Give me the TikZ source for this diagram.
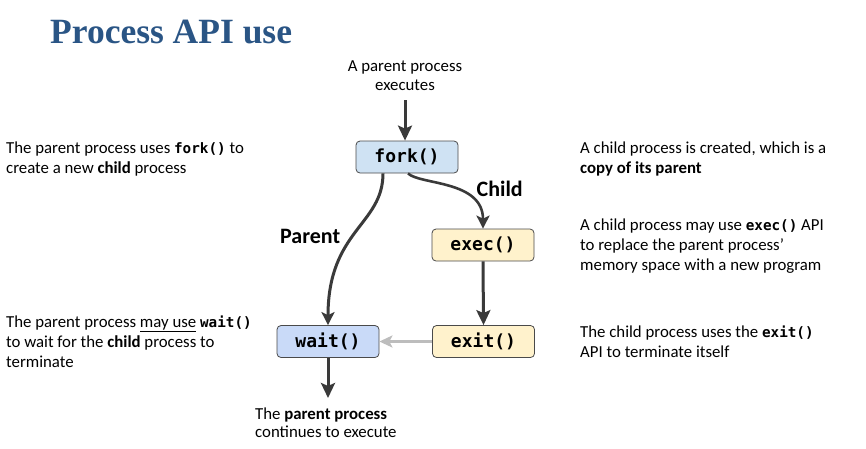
\documentclass[tikz,border=0pt]{standalone}
\usepackage{fontspec}
\setmainfont{Carlito}
\newfontfamily\codefont{DejaVu Sans Mono}
\newfontfamily\titlefont{Liberation Serif}
\usetikzlibrary{arrows.meta}
\definecolor{titleblue}{HTML}{2A5585}
\definecolor{forkblue}{HTML}{CFE2F3}
\definecolor{waitblue}{HTML}{C9DAF8}
\definecolor{childyellow}{HTML}{FFF2CC}
\definecolor{boxline}{HTML}{4A4A4A}
\definecolor{arrowdark}{HTML}{3A3A3A}
\definecolor{arrowlight}{HTML}{BDBDBD}
\newcommand\cd[1]{{\codefont\bfseries\fontsize{14.3}{20}\selectfont #1}}
\tikzset{
  callbox/.style={draw=boxline, line width=0.8pt, rounded corners=4pt,
    minimum width=102pt, minimum height=32pt, inner sep=0pt,
    font=\codefont\bfseries\fontsize{18}{20}\selectfont},
  bluebox/.style={callbox, fill=forkblue},
  bluebox2/.style={callbox, fill=waitblue},
  yellowbox/.style={callbox, fill=childyellow},
  note/.style={inner sep=0pt, align=left, anchor=north west,
    font=\fontsize{16.8}{20}\selectfont},
  branchlabel/.style={inner sep=0pt, anchor=base west,
    font=\bfseries\fontsize{22}{24}\selectfont},
  darkarrow/.style={draw=arrowdark, line width=3pt,
    -{Stealth[length=15pt,width=14pt,inset=3pt]}},
  curvearrow/.style={draw=arrowdark, line width=3pt,
    -{Stealth[length=13pt,width=13pt,inset=3pt]}},
  lightarrow/.style={draw=arrowlight, line width=2.5pt,
    -{Stealth[length=13pt,width=12pt,inset=3pt]}},
}
\begin{document}
\begin{tikzpicture}[x=1pt,y=-1pt]
\useasboundingbox (0,0) rectangle (866,448);
% title
\node[inner sep=0pt, anchor=base west, text=titleblue,
  font=\titlefont\bfseries\fontsize{35.5}{40}\selectfont] (title) at (50,43) {Process API use};

% boxes
\node[bluebox] (fork) at (407,157) {fork()};
\node[yellowbox] (exec) at (483,245) {exec()};
\node[bluebox2] (wait) at (328,341.5) {wait()};
\node[yellowbox] (exit) at (483.5,341.5) {exit()};

% top and bottom texts
\node[inner sep=0pt, align=center, anchor=north, font=\fontsize{16.8}{19}\selectfont]
  (start) at (405,57.7) {\strut A parent process\\executes};
\node[note, font=\fontsize{16.8}{18.5}\selectfont] (cont) at (255,406)
  {\strut The \textbf{parent process}\\continues to execute};
\coordinate (startpt) at (405,100);
\coordinate (endpt) at (328,398);

% branch labels
\node[branchlabel] (childlbl) at (476.5,196.5) {Child};
\node[branchlabel] (parentlbl) at (280,243.5) {Parent};

% side notes
\node[note] (n1) at (6,139) {\strut The parent process uses \cd{fork()} to\\create a new \textbf{child} process};
\node[note] (n2) at (6,313) {\strut The parent process \underline{may use} \cd{wait()}\\to wait for the \textbf{child} process to\\terminate};
\node[note] (n3) at (580,139) {\strut A child process is created, which is a\\\textbf{copy of its parent}};
\node[note] (n4) at (580,216) {\strut A child process may use \cd{exec()} API\\to replace the parent process'\\memory space with a new program};
\node[note] (n5) at (580,323) {\strut The child process uses the \cd{exit()}\\API to terminate itself};

% connectors
\draw[darkarrow] (startpt) -- (fork.north -| startpt);
\draw[curvearrow] ([xshift=-24pt]fork.south) .. controls (383,225) and (328,230) .. (wait.north);
\draw[curvearrow, line width=2.6pt] ([xshift=1pt]fork.south) .. controls (420,185) and (483,180) .. (exec.north);
\draw[darkarrow] (exec.south) -- (exit.north);
\draw[lightarrow] (exit.west) -- (wait.east);
\draw[darkarrow] (wait.south) -- (endpt);
\end{tikzpicture}
\end{document}
